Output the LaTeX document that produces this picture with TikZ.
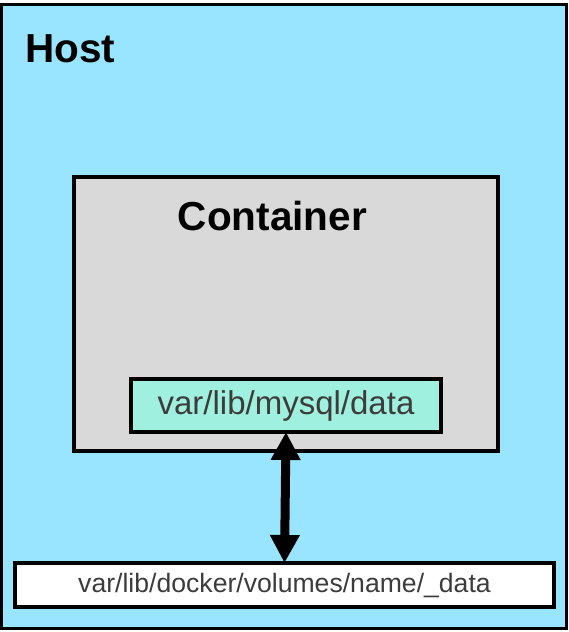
\documentclass[tikz,border=0pt]{standalone}
\usepackage{fontspec}
\setmainfont{Liberation Sans}
\usetikzlibrary{arrows.meta}
\definecolor{hostblue}{HTML}{99E5FF}
\definecolor{contgray}{HTML}{D9D9D9}
\definecolor{mint}{HTML}{A0F0E0}
\definecolor{txtgray}{HTML}{3C3C3C}
\begin{document}
\begin{tikzpicture}[x=1pt,y=-1pt,
  box/.style={draw=black,line width=3.5pt},
  title/.style={font=\bfseries\fontsize{40.5}{46}\selectfont,text=black,inner sep=0pt},
  pathtxt/.style={text=txtgray,inner sep=0pt}]
\useasboundingbox (0,0) rectangle (568,632);
\fill[white] (0,0) rectangle (568,632);
\draw[box,fill=hostblue] (1.5,4.5) rectangle (566.5,628.5);
\draw[box,fill=contgray] (74,177) rectangle (498,451);
\node[title,anchor=base west] (host) at (25,62) {Host};
\node[title,anchor=base] (cont) at (272.5,230) {Container};
\node[box,fill=mint,minimum width=310pt,minimum height=53pt,inner sep=0pt,
  font=\fontsize{33}{40}\selectfont,text=txtgray] (mysql) at (286,405.5) {var/lib/mysql/data};
\node[box,fill=white,minimum width=539pt,minimum height=44pt,inner sep=0pt,
  font=\fontsize{26.6}{32}\selectfont,text=txtgray] (vol) at (284.5,585) {var/lib/docker/volumes/name/\_data};
\draw[line width=9pt,{Triangle[length=28pt,width=28pt]}-{Triangle[length=28pt,width=28pt]}]
  ([yshift=1.75pt]mysql.south) -- ([yshift=-1.75pt]vol.north);
\end{tikzpicture}
\end{document}
